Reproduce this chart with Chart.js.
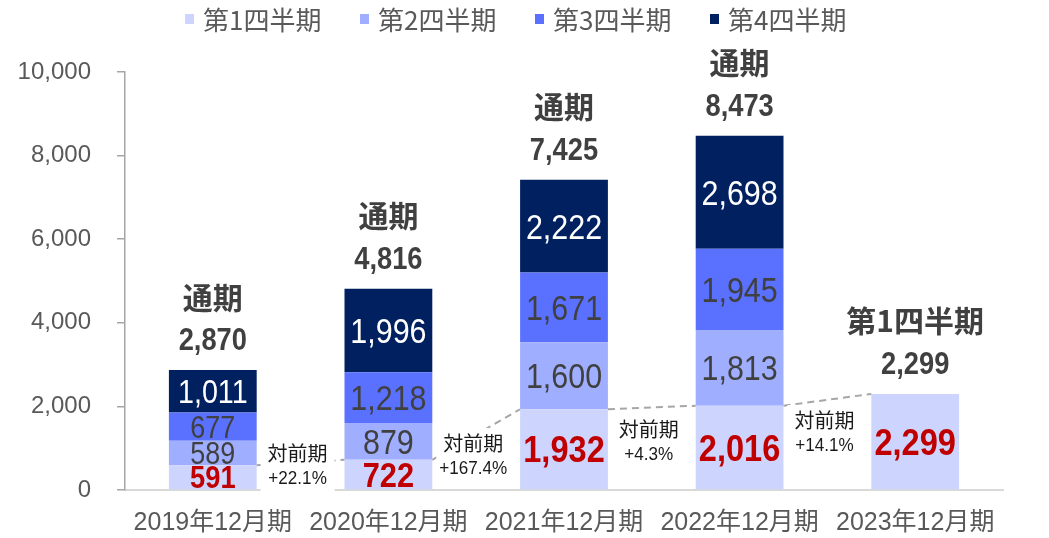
<!DOCTYPE html>
<html>
<head>
<meta charset="utf-8">
<script src="https://cdn.jsdelivr.net/npm/chart.js@4/dist/chart.umd.min.js"></script>
<style>
  html, body { margin: 0; padding: 0; background: #ffffff; }
  canvas { display: block; }
</style>
</head>
<body>
<canvas id="chart" width="1049" height="538"></canvas>
<script>
// ---- data ----
const categories = ['2019年12月期', '2020年12月期', '2021年12月期', '2022年12月期', '2023年12月期'];
const seriesNames = ['第1四半期', '第2四半期', '第3四半期', '第4四半期'];
const q1Values = [591, 722, 1932, 2016, 2299];
const q2Values = [589, 879, 1600, 1813, null];
const q3Values = [677, 1218, 1671, 1945, null];
const q4Values = [1011, 1996, 2222, 2698, null];
const totalValues = [2870, 4816, 7425, 8473, 2299];
const totalTitles = ['通期', '通期', '通期', '通期', '第1四半期'];
const growthTitle = '対前期';
const growthRates = ['+22.1%', '+167.4%', '+4.3%', '+14.1%'];
const yTickValues = [0, 2000, 4000, 6000, 8000, 10000];

// ---- styling ----
const seriesColors = ['#cdd5fe', '#a0aeff', '#5a70ff', '#002060'];
const CJK = '"Noto Sans CJK JP"';
const LATIN = '"Liberation Sans"';
const TEXT_GREY = '#595959';
const DARK = '#404040';
const RED = '#c00000';
// per-bar font sizes of the in-bar numbers (first year has shorter segments)
const q1FontSize = [31, 35, 37, 37, 37];
const innerFontSize = [31, 35, 35, 35, 35];
// height of each growth note above the x axis, in px
const growthNoteRise = [25, 35, 49, 58];

const fmt = v => v.toLocaleString('en-US');

function narrowText(ctx, text, cx, cy, size, weight, color, sx) {
  // Latin digits drawn horizontally condensed, vertically centred on the cap height
  ctx.save();
  ctx.translate(cx, cy + size * 0.358);
  ctx.scale(sx, 1);
  ctx.font = `${weight} ${size}px ${LATIN}`;
  ctx.fillStyle = color;
  ctx.textAlign = 'center';
  ctx.textBaseline = 'alphabetic';
  ctx.fillText(text, 0, 0);
  ctx.restore();
}

function cjkText(ctx, text, cx, cy, size, weight, color) {
  ctx.save();
  ctx.font = `${weight} ${size}px ${CJK}`;
  ctx.fillStyle = color;
  ctx.textAlign = 'center';
  ctx.textBaseline = 'middle';
  ctx.fillText(text, cx, cy);
  ctx.restore();
}

const annotations = {
  id: 'annotations',
  afterDatasetsDraw(chart) {
    const ctx = chart.ctx;
    const yScale = chart.scales.y;
    const bars = chart.data.datasets.map((_, i) => chart.getDatasetMeta(i).data.map(el => el.getProps(['x', 'y', 'base', 'width'], true)));
    const q1Bars = bars[0];

    // dashed connectors between the first-quarter tops
    ctx.save();
    ctx.strokeStyle = '#a6a6a6';
    ctx.lineWidth = 2;
    ctx.setLineDash([7, 5]);
    for (let i = 0; i < q1Bars.length - 1; i++) {
      const a = q1Bars[i], b = q1Bars[i + 1];
      ctx.beginPath();
      ctx.moveTo(a.x + a.width / 2, a.y);
      ctx.lineTo(b.x - b.width / 2, b.y);
      ctx.stroke();
    }
    ctx.restore();

    // year-on-year notes
    growthRates.forEach((rate, i) => {
      const a = q1Bars[i], b = q1Bars[i + 1];
      const cx = ((a.x + a.width / 2) + (b.x - b.width / 2)) / 2 - 3;
      const cy = yScale.bottom - growthNoteRise[i];
      ctx.save();
      ctx.fillStyle = '#ffffff';
      ctx.fillRect(cx - 37, cy - 27, 74, 54);
      ctx.restore();
      cjkText(ctx, growthTitle, cx, cy - 12, 20, 400, '#1a1a1a');
      narrowText(ctx, rate, cx, cy + 13, 18, 400, '#1a1a1a', 0.95);
    });

    // values inside each segment
    const innerStyles = [
      { weight: 700, color: RED, sx: 0.88 },
      { weight: 400, color: DARK, sx: 0.87 },
      { weight: 400, color: DARK, sx: 0.87 },
      { weight: 400, color: '#ffffff', sx: 0.87 }
    ];
    chart.data.datasets.forEach((ds, s) => {
      ds.data.forEach((v, i) => {
        if (v == null) return;
        const el = bars[s][i];
        const size = s === 0 ? q1FontSize[i] : innerFontSize[i] + (s === 3 && i === 0 ? 2 : 0);
        const st = innerStyles[s];
        narrowText(ctx, fmt(v), el.x, (el.y + el.base) / 2, size, st.weight, st.color, st.sx);
      });
    });

    // totals above each stack
    totalValues.forEach((t, i) => {
      let top = Infinity, cx = q1Bars[i].x;
      bars.forEach(series => { const el = series[i]; if (el && !isNaN(el.y)) top = Math.min(top, el.y); });
      narrowText(ctx, fmt(t), cx, top - 31, 31, 700, DARK, 0.88);
      cjkText(ctx, totalTitles[i], cx, top - 73, 30, 700, DARK);
    });
  },
  afterDraw(chart) {
    // legend row
    const ctx = chart.ctx;
    chart.data.datasets.forEach((ds, i) => {
      const x = 185 + i * 175;
      ctx.save();
      ctx.fillStyle = ds.backgroundColor;
      ctx.fillRect(x, 14, 9, 10);
      ctx.font = `400 26px ${CJK}`;
      ctx.fillStyle = TEXT_GREY;
      ctx.textAlign = 'left';
      ctx.textBaseline = 'middle';
      ctx.fillText(ds.label, x + 18, 20);
      ctx.restore();
    });
  }
};

const datasets = [q1Values, q2Values, q3Values, q4Values].map((vals, i) => ({
  label: seriesNames[i],
  data: vals,
  backgroundColor: seriesColors[i],
  borderWidth: 0,
  barPercentage: 0.5,
  categoryPercentage: 1.0
}));

new Chart(document.getElementById('chart'), {
  type: 'bar',
  data: { labels: categories, datasets },
  options: {
    responsive: false,
    animation: false,
    devicePixelRatio: 1,
    layout: { padding: { top: 72, right: 46, left: 0, bottom: 0 } },
    plugins: {
      legend: { display: false },
      tooltip: { enabled: false }
    },
    scales: {
      x: {
        stacked: true,
        grid: { display: false, drawTicks: false },
        border: { display: true, color: '#d9d9d9', width: 2 },
        ticks: {
          font: { family: `${LATIN}, ${CJK}`, size: 25 },
          color: TEXT_GREY,
          padding: 18,
          autoSkip: false,
          maxRotation: 0
        },
        afterFit: s => { s.height = 48; }
      },
      y: {
        stacked: true,
        min: 0,
        max: 10000,
        afterBuildTicks: s => { s.ticks = yTickValues.map(v => ({ value: v })); },
        grid: { drawOnChartArea: false, drawTicks: true, tickLength: 8, color: '#a6a6a6', lineWidth: 1.5 },
        border: { display: true, color: '#a6a6a6', width: 1.5 },
        ticks: {
          font: { family: LATIN, size: 24 },
          color: TEXT_GREY,
          padding: 26,
          callback: v => fmt(v)
        },
        afterFit: s => { s.width = 125; }
      }
    }
  },
  plugins: [annotations]
});
</script>
</body>
</html>
